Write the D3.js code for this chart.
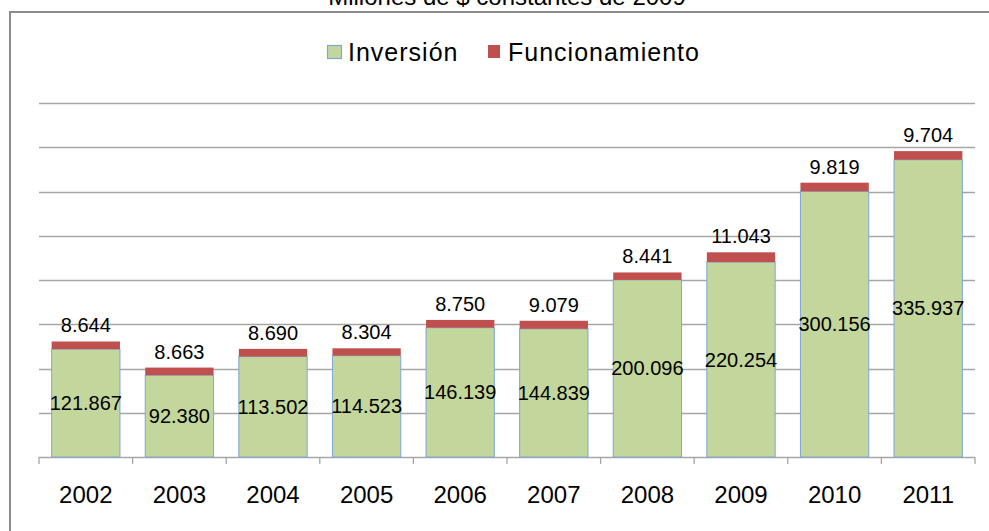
<!DOCTYPE html>
<html>
<head>
<meta charset="utf-8">
<script src="https://cdn.jsdelivr.net/npm/d3@7"></script>
<style>
  html, body { margin: 0; padding: 0; background: #fff; }
  svg { display: block; font-family: "Liberation Sans", Arial, sans-serif; }
</style>
</head>
<body>
<svg id="chart" width="989" height="531"></svg>
<script>
const years = ["2002","2003","2004","2005","2006","2007","2008","2009","2010","2011"];
const inversion = [121.867, 92.380, 113.502, 114.523, 146.139, 144.839, 200.096, 220.254, 300.156, 335.937];
const funcionamiento = [8.644, 8.663, 8.690, 8.304, 8.750, 9.079, 8.441, 11.043, 9.819, 9.704];
const gridTicks = [0, 50, 100, 150, 200, 250, 300, 350, 400];
const seriesNames = ["Inversión", "Funcionamiento"];
const chartTitle = "Millones de $ constantes de 2009";

const fmt = v => v.toFixed(3);

const svg = d3.select("#chart");
const pLeft = 39, pRight = 975, pTop = 103, pBottom = 457;

const x = d3.scaleBand().domain(years).range([pLeft, pRight]).paddingInner(0.27).paddingOuter(0.135);
const y = d3.scaleLinear().domain([0, 400]).range([pBottom, pTop]);

// frame
svg.append("rect").attr("x", 10).attr("y", 12).attr("width", 1000).attr("height", 540)
  .attr("fill", "#fff").attr("stroke", "#8c8c8c").attr("stroke-width", 2);

// title (cut off at top)
svg.append("text").attr("x", 507).attr("y", 5).attr("text-anchor", "middle")
  .attr("font-size", 24).attr("fill", "#000").text(chartTitle);

// gridlines
svg.append("g").selectAll("line").data(gridTicks.slice(1)).join("line")
  .attr("x1", pLeft).attr("x2", pRight)
  .attr("y1", d => Math.round(y(d)) + 0.5).attr("y2", d => Math.round(y(d)) + 0.5)
  .attr("stroke", "#a6a6a6").attr("stroke-width", 1.3);

// x axis
const xAxis = d3.axisBottom(x).tickSize(0).tickPadding(0);
const gx = svg.append("g").attr("transform", `translate(0,${pBottom})`).call(xAxis);
gx.select(".domain").remove();
gx.selectAll("text").attr("font-size", 24).attr("fill", "#000")
  .attr("font-family", "Liberation Sans, Arial, sans-serif")
  .attr("dy", null).attr("y", 46);
svg.append("line").attr("x1", pLeft).attr("x2", pRight).attr("y1", pBottom + 0.5).attr("y2", pBottom + 0.5)
  .attr("stroke", "#a6a6a6").attr("stroke-width", 1.3);
const bounds = d3.range(years.length + 1).map(i => pLeft + i * x.step());
svg.append("g").selectAll("line").data(bounds).join("line")
  .attr("x1", d => d).attr("x2", d => d).attr("y1", pBottom).attr("y2", pBottom + 7)
  .attr("stroke", "#a6a6a6").attr("stroke-width", 1.3);

// bars
const data = years.map((yr, i) => ({ yr, a: inversion[i], b: funcionamiento[i] }));
const g = svg.append("g");
g.selectAll("rect.inv").data(data).join("rect").attr("class", "inv")
  .attr("x", d => x(d.yr)).attr("width", x.bandwidth())
  .attr("y", d => y(d.a)).attr("height", d => y(0) - y(d.a))
  .attr("fill", "#c3d69b").attr("stroke", "#7ea6d6").attr("stroke-width", 1);
g.selectAll("rect.fun").data(data).join("rect").attr("class", "fun")
  .attr("x", d => x(d.yr)).attr("width", x.bandwidth())
  .attr("y", d => y(d.a + d.b)).attr("height", d => y(d.a) - y(d.a + d.b))
  .attr("fill", "#c0504d");

// labels
g.selectAll("text.linv").data(data).join("text").attr("class", "linv")
  .attr("x", d => x(d.yr) + x.bandwidth() / 2)
  .attr("y", d => (y(d.a) + y(0)) / 2 + 7)
  .attr("text-anchor", "middle").attr("font-size", 20).attr("fill", "#000")
  .text(d => fmt(d.a));
g.selectAll("text.lfun").data(data).join("text").attr("class", "lfun")
  .attr("x", d => x(d.yr) + x.bandwidth() / 2)
  .attr("y", d => y(d.a + d.b) - 9)
  .attr("text-anchor", "middle").attr("font-size", 20).attr("fill", "#000")
  .text(d => fmt(d.b));

// legend
const leg = svg.append("g");
leg.append("rect").attr("x", 327.5).attr("y", 45.5).attr("width", 14).attr("height", 13)
  .attr("fill", "#c3d69b").attr("stroke", "#7ea6d6").attr("stroke-width", 1.2);
leg.append("text").attr("x", 348).attr("y", 61).attr("font-size", 25).attr("letter-spacing", 1)
  .attr("fill", "#000").text(seriesNames[0]);
leg.append("rect").attr("x", 488).attr("y", 45).attr("width", 12).attr("height", 13)
  .attr("fill", "#c0504d");
leg.append("text").attr("x", 508).attr("y", 61).attr("font-size", 25).attr("letter-spacing", 1)
  .attr("fill", "#000").text(seriesNames[1]);
</script>
</body>
</html>
